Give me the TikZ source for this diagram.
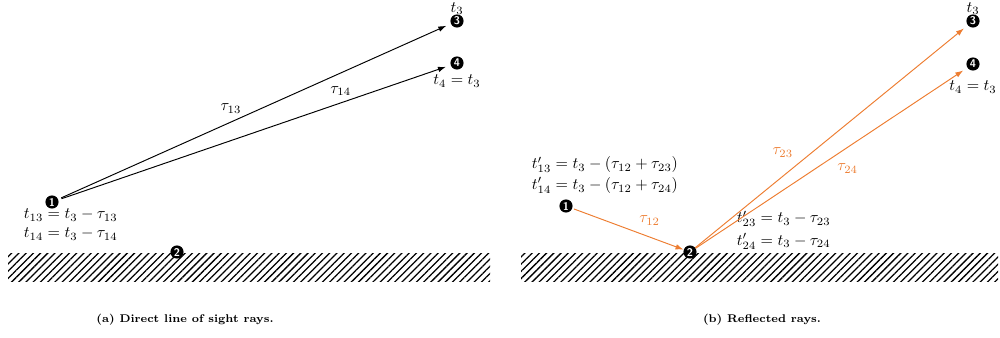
\documentclass[tikz,border=0pt]{standalone}
\usepackage{amsmath}
\usepackage{tikz}
\usetikzlibrary{arrows.meta, positioning, patterns.meta}
\definecolor{rayorange}{RGB}{237,125,49}

\begin{document}
\begin{tikzpicture}[x=0.022cm, y=-0.022cm,
    station/.style={circle, fill=black, text=white, inner sep=0pt, minimum size=0.29cm,
                    font=\sffamily\bfseries\scriptsize},
    ground/.style={pattern={Lines[angle=45, distance=3.2pt, line width=0.8pt]}},
    ray/.style={-{Latex[length=5pt, width=3.5pt]}, line width=0.6pt},
    reflected/.style={ray, draw=rayorange},
    timing/.style={align=left, font=\normalsize, inner sep=1pt},
    caption/.style={font=\scriptsize\bfseries},
]
    \useasboundingbox (0,0) rectangle (1000,337);

    % ground surfaces
    \path[ground] (8,253) rectangle (490,281);
    \path[ground] (521,253) rectangle (998,281);

    % (a) direct line of sight
    \node[station] (srcA) at (52,202) {1};
    \node[station] (gndA) at (177,252) {2};
    \node[station] (rxThreeA) at (457,21) {3};
    \node[station] (rxFourA) at (457,63) {4};

    \node[above=-1.5pt of rxThreeA, inner sep=1pt] (tThreeA) {$t_3$};
    \node[below=2pt of rxFourA, inner sep=1pt] (tFourA) {$t_4 = t_3$};
    \node[timing, anchor=north west] (timesA) at (22,207)
        {$t_{13} = t_3 - \tau_{13}$\\$t_{14} = t_3 - \tau_{14}$};

    \draw[ray, shorten <=2pt, shorten >=3pt] (srcA) -- node[pos=0.44, above=2pt] {$\tau_{13}$} (rxThreeA);
    \draw[ray, shorten <=2pt, shorten >=3pt] (srcA) -- node[pos=0.72, above=1pt] {$\tau_{14}$} (rxFourA);

    \node[caption] (capA) at (185,320) {(a) Direct line of sight rays.};

    % (b) reflected
    \node[station] (srcB) at (566,206) {1};
    \node[station] (gndB) at (690,252) {2};
    \node[station] (rxThreeB) at (973,21) {3};
    \node[station] (rxFourB) at (973,64) {4};

    \node[above=-1.5pt of rxThreeB, inner sep=1pt] (tThreeB) {$t_3$};
    \node[below=5pt of rxFourB, inner sep=1pt] (tFourB) {$t_4 = t_3$};
    \node[timing, anchor=north west] (timesSrcB) at (530,155)
        {$t'_{13} = t_3 - (\tau_{12} + \tau_{23})$\\[1pt]$t'_{14} = t_3 - (\tau_{12} + \tau_{24})$};
    \node[timing, anchor=north west] (timesGndB) at (735,209)
        {$t'_{23} = t_3 - \tau_{23}$\\[2pt]$t'_{24} = t_3 - \tau_{24}$};

    \draw[reflected, shorten <=1pt] (srcB) -- node[pos=0.55, above right=0pt, text=rayorange] {$\tau_{12}$} (gndB);
    \draw[reflected, shorten >=3pt] (gndB) -- node[pos=0.38, above left=0pt, text=rayorange] {$\tau_{23}$} (rxThreeB);
    \draw[reflected, shorten >=3pt] (gndB) -- node[pos=0.5, below right=0pt, text=rayorange] {$\tau_{24}$} (rxFourB);

    \node[caption] (capB) at (762,320) {(b) Reflected rays.};
\end{tikzpicture}
\end{document}
